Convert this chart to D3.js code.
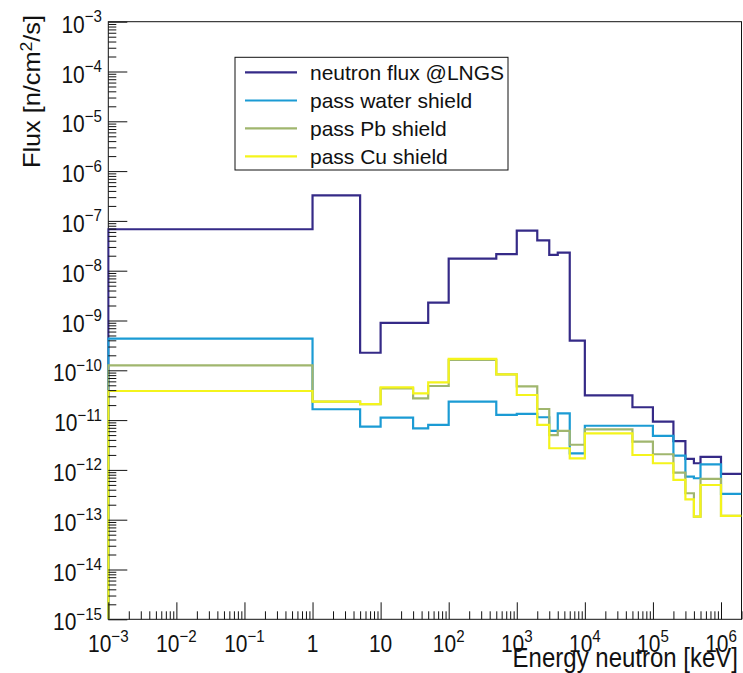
<!DOCTYPE html>
<html>
<head>
<meta charset="utf-8">
<script src="https://cdn.jsdelivr.net/npm/d3@7"></script>
<style>
  body { margin: 0; background: #fff; }
  text { font-family: "Liberation Sans", Arial, Helvetica, sans-serif; fill: #111; }
</style>
</head>
<body>
<svg id="chart" width="743" height="673"></svg>
<script>
// bin edges [keV]
const edges = [1e-3, 1, 5, 10, 30, 50, 100, 500, 1000, 2000, 3000, 4000, 6000, 1e4, 5e4, 1e5, 2e5, 3e5, 4e5, 5e5, 1e6, 2e6];

// flux per bin [n/cm2/s]
const lngs  = [6.8e-8, 3.27e-7, 2.25e-10, 9.0e-10, 9.0e-10, 2.28e-9, 1.74e-8, 2.16e-8, 6.35e-8, 4.07e-8, 2.07e-8, 2.3e-8,
               3.93e-10, 3.15e-11, 1.81e-11, 9.3e-12, 3.8e-12, 1.66e-12, 1.36e-12, 1.82e-12, 8.3e-13];
const water = [4.31e-10, 1.65e-11, 7.4e-12, 1.12e-11, 6.8e-12, 8.0e-12, 2.34e-11, 1.27e-11, 1.33e-11, 1.14e-11, 6.1e-12, 1.37e-11,
               2.15e-12, 7.7e-12, 7.7e-12, 4.8e-12, 1.93e-12, 7.3e-13, 6.8e-13, 1.29e-12, 3.3e-13];
const pb    = [1.26e-10, 2.34e-11, 2.1e-11, 4.35e-11, 2.74e-11, 4.84e-11, 1.61e-10, 8.3e-11, 4.77e-11, 1.67e-11, 5.0e-12, 6.1e-12,
               3.2e-12, 6.5e-12, 3.7e-12, 2.06e-12, 8.8e-13, 3.4e-13, 1.15e-13, 6.6e-13, 1.19e-13];
const cu    = [3.84e-11, 2.34e-11, 2.1e-11, 4.56e-11, 3.45e-11, 5.74e-11, 1.69e-10, 8.3e-11, 3.19e-11, 8.0e-12, 2.72e-12, 2.72e-12,
               1.71e-12, 5.4e-12, 1.99e-12, 1.36e-12, 6.3e-13, 2.57e-13, 1.15e-13, 4.98e-13, 1.19e-13];

const seriesNames  = ["neutron flux @LNGS", "pass water shield", "pass Pb shield", "pass Cu shield"];
const seriesColors = ["#352a87", "#1b9bd4", "#a0b66e", "#f4f41c"];
const series = [lngs, water, pb, cu];

const xMin = 1e-3, xMax = 2e6, yMin = 1e-15, yMax = 1e-3;
const plotL = 108.3, plotR = 741.5, plotT = 21.7, plotB = 619.3;

const svg = d3.select("#chart");
const x = d3.scaleLog().domain([xMin, xMax]).range([plotL, plotR]);
const y = d3.scaleLog().domain([yMin, yMax]).range([plotB, plotT]);

// frame
svg.append("rect")
  .attr("x", plotL).attr("y", plotT)
  .attr("width", plotR - plotL).attr("height", plotB - plotT)
  .attr("fill", "none").attr("stroke", "#111").attr("stroke-width", 1);

svg.append("clipPath").attr("id", "plot")
  .append("rect").attr("x", plotL - 1).attr("y", plotT).attr("width", plotR - plotL + 1).attr("height", plotB - plotT);

// histograms
const line = d3.line()
  .x(d => x(d[0]))
  .y(d => y(d[1]))
  .curve(d3.curveStepAfter);

series.forEach((vals, k) => {
  const pts = [[edges[0], yMin]];
  vals.forEach((v, i) => pts.push([edges[i], v]));
  pts.push([edges[edges.length - 1], vals[vals.length - 1]]);
  svg.append("path")
    .attr("clip-path", "url(#plot)")
    .attr("d", line(pts))
    .attr("fill", "none")
    .attr("stroke", seriesColors[k])
    .attr("stroke-width", 2.2);
});

// ticks
const xMajor = d3.range(-3, 7).map(e => Math.pow(10, e));
const yMajor = d3.range(-15, -2).map(e => Math.pow(10, e));
const minorOf = majors => majors.flatMap(m => d3.range(2, 10).map(k => k * m));
const xMinor = minorOf(xMajor).filter(v => v <= xMax);
const yMinor = minorOf(yMajor.slice(0, -1));

const styleAxis = g => {
  g.select(".domain").remove();
  g.selectAll(".tick line").attr("stroke", "#111");
};

svg.append("g").attr("transform", `translate(0,${plotB})`)
  .call(d3.axisBottom(x).tickValues(xMajor).tickSize(-17).tickFormat("")).call(styleAxis);
svg.append("g").attr("transform", `translate(0,${plotB})`)
  .call(d3.axisBottom(x).tickValues(xMinor).tickSize(-8).tickFormat("")).call(styleAxis);
svg.append("g").attr("transform", `translate(${plotL},0)`)
  .call(d3.axisLeft(y).tickValues(yMajor).tickSize(-19).tickFormat("")).call(styleAxis);
svg.append("g").attr("transform", `translate(${plotL},0)`)
  .call(d3.axisLeft(y).tickValues(yMinor).tickSize(-8).tickFormat("")).call(styleAxis);

// tick labels with superscripts (slightly stretched vertically like the original)
const fs = 21;
function powerLabel(sel, v) {
  const e = Math.round(Math.log10(v));
  if (e === 0) { sel.text("1"); return; }
  if (e === 1) { sel.text("10"); return; }
  sel.append("tspan").text("10");
  sel.append("tspan").attr("dy", -9.5).attr("font-size", fs * 0.72)
    .text(e < 0 ? "\u2212" + (-e) : String(e));
}

xMajor.forEach(v => {
  const t = svg.append("text")
    .attr("transform", `translate(${x(v)},652) scale(1,1.1)`)
    .attr("text-anchor", "middle")
    .attr("font-size", fs);
  powerLabel(t, v);
});

yMajor.forEach(v => {
  const t = svg.append("text")
    .attr("transform", `translate(102,${y(v) + 11}) scale(1,1.1)`)
    .attr("text-anchor", "end")
    .attr("font-size", fs);
  powerLabel(t, v);
});

// axis titles
svg.append("text")
  .attr("transform", "translate(738,667) scale(1,1.12)")
  .attr("text-anchor", "end")
  .attr("font-size", 24)
  .text("Energy neutron [keV]");

const yt = svg.append("text")
  .attr("transform", `translate(40,15) rotate(-90) scale(1.1,1)`)
  .attr("text-anchor", "end")
  .attr("font-size", 23);
yt.append("tspan").text("Flux [n/cm");
yt.append("tspan").attr("dy", -8).attr("font-size", 16).text("2");
yt.append("tspan").attr("dy", 8).text("/s]");

// legend
const lg = svg.append("g");
lg.append("rect")
  .attr("x", 235).attr("y", 57.3).attr("width", 273).attr("height", 112.7)
  .attr("fill", "#fff").attr("stroke", "#111").attr("stroke-width", 1);
const rowY = [72.3, 100.5, 128.3, 156.3];
seriesNames.forEach((name, k) => {
  lg.append("line")
    .attr("x1", 245).attr("x2", 297)
    .attr("y1", rowY[k]).attr("y2", rowY[k])
    .attr("stroke", seriesColors[k]).attr("stroke-width", 2.2);
  lg.append("text")
    .attr("x", 310).attr("y", rowY[k] + 7.5)
    .attr("font-size", 21)
    .text(name);
});
</script>
</body>
</html>
